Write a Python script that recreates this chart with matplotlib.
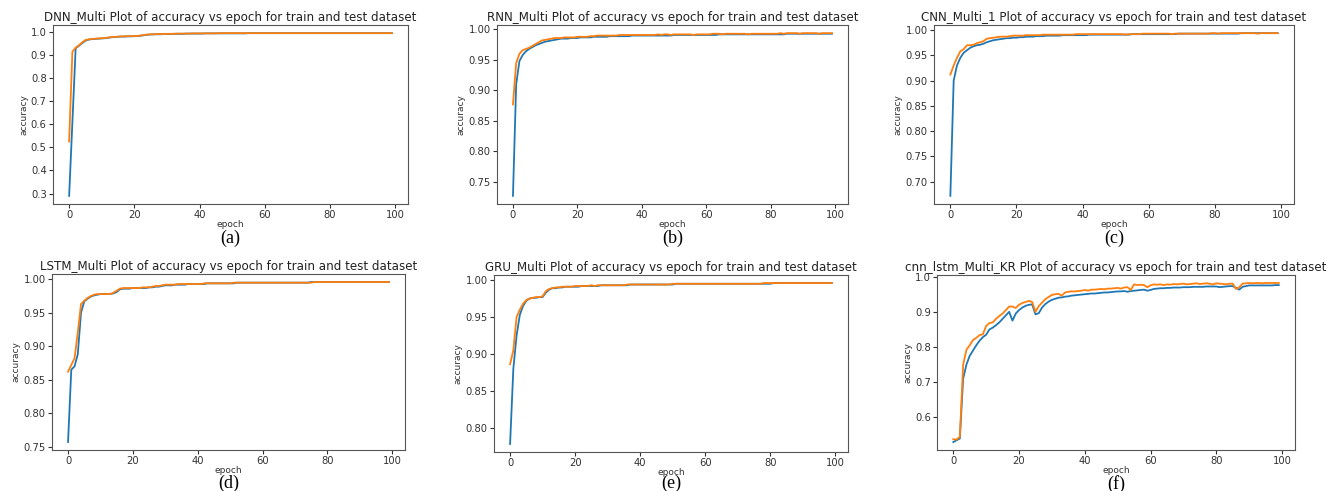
import matplotlib.pyplot as plt

plt.rcParams['font.family'] = ['DejaVu Sans']

epochs = list(range(100))

# (a) DNN_Multi
dnn_train = [0.290, 0.610, 0.930, 0.940, 0.952, 0.962, 0.967, 0.969, 0.970, 0.971,
             0.972, 0.973, 0.975, 0.977, 0.978, 0.979, 0.980, 0.980, 0.981, 0.981,
             0.982, 0.982, 0.984, 0.986, 0.988, 0.989, 0.990, 0.990, 0.990, 0.991,
             0.991, 0.991, 0.992, 0.992, 0.992, 0.992, 0.993, 0.993, 0.993, 0.993,
             0.993, 0.993, 0.994, 0.994, 0.994, 0.994, 0.994, 0.994, 0.994, 0.994,
             0.994, 0.994, 0.994, 0.994, 0.994, 0.995, 0.995, 0.995, 0.995, 0.995,
             0.995, 0.995, 0.995, 0.995, 0.995, 0.995, 0.995, 0.995, 0.995, 0.995,
             0.995, 0.995, 0.995, 0.995, 0.995, 0.995, 0.995, 0.995, 0.995, 0.995,
             0.995, 0.995, 0.995, 0.995, 0.995, 0.995, 0.995, 0.995, 0.995, 0.995,
             0.995, 0.995, 0.995, 0.995, 0.995, 0.995, 0.995, 0.995, 0.995, 0.995]
dnn_test = [0.525, 0.915, 0.932, 0.942, 0.955, 0.965, 0.968, 0.970, 0.971, 0.972,
            0.973, 0.974, 0.976, 0.978, 0.979, 0.980, 0.981, 0.981, 0.982, 0.982,
            0.982, 0.983, 0.985, 0.987, 0.989, 0.990, 0.990, 0.991, 0.991, 0.991,
            0.992, 0.992, 0.992, 0.993, 0.993, 0.993, 0.993, 0.993, 0.994, 0.994,
            0.994, 0.994, 0.994, 0.994, 0.994, 0.994, 0.995, 0.995, 0.995, 0.995,
            0.995, 0.995, 0.995, 0.995, 0.995, 0.995, 0.995, 0.995, 0.995, 0.995,
            0.995, 0.995, 0.995, 0.995, 0.995, 0.995, 0.995, 0.995, 0.995, 0.995,
            0.995, 0.995, 0.995, 0.995, 0.995, 0.995, 0.995, 0.995, 0.995, 0.995,
            0.995, 0.995, 0.995, 0.995, 0.995, 0.995, 0.995, 0.995, 0.995, 0.995,
            0.995, 0.995, 0.995, 0.995, 0.995, 0.995, 0.995, 0.995, 0.995, 0.995]

# (b) RNN_Multi
rnn_train = [0.727, 0.910, 0.948, 0.958, 0.964, 0.968, 0.971, 0.974, 0.976, 0.978,
             0.980, 0.981, 0.982, 0.983, 0.984, 0.985, 0.985, 0.985, 0.986, 0.986,
             0.986, 0.987, 0.987, 0.987, 0.987, 0.988, 0.988, 0.988, 0.988, 0.988,
             0.989, 0.989, 0.989, 0.989, 0.989, 0.989, 0.989, 0.990, 0.990, 0.990,
             0.990, 0.990, 0.990, 0.990, 0.990, 0.990, 0.990, 0.990, 0.990, 0.990,
             0.991, 0.991, 0.991, 0.991, 0.991, 0.991, 0.991, 0.991, 0.991, 0.991,
             0.991, 0.991, 0.991, 0.991, 0.992, 0.992, 0.992, 0.992, 0.992, 0.992,
             0.992, 0.992, 0.992, 0.992, 0.992, 0.992, 0.992, 0.992, 0.992, 0.992,
             0.992, 0.992, 0.992, 0.992, 0.992, 0.993, 0.993, 0.993, 0.993, 0.993,
             0.993, 0.993, 0.993, 0.993, 0.993, 0.993, 0.993, 0.993, 0.993, 0.993]
rnn_test = [0.877, 0.945, 0.960, 0.966, 0.968, 0.970, 0.973, 0.976, 0.979, 0.982,
            0.983, 0.984, 0.985, 0.986, 0.986, 0.986, 0.987, 0.987, 0.987, 0.987,
            0.988, 0.988, 0.988, 0.988, 0.989, 0.989, 0.990, 0.990, 0.990, 0.990,
            0.990, 0.990, 0.990, 0.991, 0.991, 0.991, 0.991, 0.991, 0.991, 0.991,
            0.991, 0.991, 0.991, 0.991, 0.991, 0.992, 0.991, 0.992, 0.992, 0.991,
            0.992, 0.992, 0.992, 0.992, 0.992, 0.992, 0.991, 0.992, 0.992, 0.992,
            0.992, 0.992, 0.993, 0.993, 0.993, 0.992, 0.993, 0.993, 0.993, 0.993,
            0.993, 0.993, 0.993, 0.992, 0.993, 0.993, 0.993, 0.993, 0.993, 0.993,
            0.993, 0.993, 0.993, 0.994, 0.993, 0.994, 0.994, 0.994, 0.994, 0.993,
            0.994, 0.994, 0.994, 0.994, 0.994, 0.993, 0.994, 0.994, 0.994, 0.994]

# (c) CNN_Multi_1
cnn_train = [0.672, 0.900, 0.930, 0.945, 0.955, 0.960, 0.965, 0.968, 0.970, 0.971,
             0.973, 0.976, 0.978, 0.980, 0.981, 0.982, 0.983, 0.984, 0.984, 0.985,
             0.985, 0.986, 0.986, 0.987, 0.987, 0.987, 0.988, 0.988, 0.988, 0.989,
             0.989, 0.989, 0.989, 0.989, 0.990, 0.990, 0.990, 0.990, 0.990, 0.990,
             0.990, 0.990, 0.991, 0.991, 0.991, 0.991, 0.991, 0.991, 0.991, 0.991,
             0.991, 0.991, 0.991, 0.991, 0.991, 0.992, 0.992, 0.992, 0.992, 0.992,
             0.992, 0.992, 0.992, 0.992, 0.992, 0.992, 0.992, 0.992, 0.992, 0.993,
             0.993, 0.993, 0.993, 0.993, 0.993, 0.993, 0.993, 0.993, 0.993, 0.993,
             0.993, 0.993, 0.993, 0.993, 0.993, 0.993, 0.993, 0.993, 0.994, 0.994,
             0.994, 0.994, 0.994, 0.994, 0.994, 0.994, 0.994, 0.994, 0.994, 0.994]
cnn_test = [0.912, 0.930, 0.945, 0.958, 0.962, 0.970, 0.970, 0.971, 0.974, 0.976,
            0.978, 0.983, 0.984, 0.985, 0.986, 0.987, 0.987, 0.987, 0.988, 0.989,
            0.989, 0.989, 0.989, 0.990, 0.990, 0.990, 0.990, 0.990, 0.991, 0.991,
            0.991, 0.991, 0.991, 0.991, 0.991, 0.991, 0.991, 0.991, 0.992, 0.992,
            0.992, 0.992, 0.992, 0.992, 0.992, 0.992, 0.992, 0.992, 0.992, 0.992,
            0.992, 0.992, 0.992, 0.991, 0.992, 0.992, 0.992, 0.992, 0.993, 0.993,
            0.993, 0.993, 0.993, 0.993, 0.993, 0.993, 0.993, 0.992, 0.993, 0.993,
            0.993, 0.993, 0.993, 0.993, 0.993, 0.993, 0.993, 0.993, 0.993, 0.994,
            0.994, 0.993, 0.994, 0.994, 0.994, 0.994, 0.994, 0.994, 0.994, 0.994,
            0.994, 0.994, 0.994, 0.993, 0.994, 0.994, 0.994, 0.994, 0.994, 0.994]

# (d) LSTM_Multi
lstm_train = [0.757, 0.865, 0.870, 0.888, 0.950, 0.967, 0.971, 0.974, 0.976, 0.977,
              0.978, 0.978, 0.978, 0.978, 0.979, 0.981, 0.985, 0.986, 0.986, 0.986,
              0.987, 0.987, 0.987, 0.987, 0.987, 0.988, 0.988, 0.989, 0.989, 0.990,
              0.991, 0.991, 0.991, 0.992, 0.992, 0.992, 0.992, 0.993, 0.993, 0.993,
              0.993, 0.993, 0.993, 0.994, 0.994, 0.994, 0.994, 0.994, 0.994, 0.994,
              0.994, 0.994, 0.995, 0.995, 0.995, 0.995, 0.995, 0.995, 0.995, 0.995,
              0.995, 0.995, 0.995, 0.995, 0.995, 0.995, 0.995, 0.995, 0.995, 0.995,
              0.995, 0.995, 0.995, 0.995, 0.995, 0.996, 0.996, 0.996, 0.996, 0.996,
              0.996, 0.996, 0.996, 0.996, 0.996, 0.996, 0.996, 0.996, 0.996, 0.996,
              0.996, 0.996, 0.996, 0.996, 0.996, 0.996, 0.996, 0.996, 0.996, 0.996]
lstm_test = [0.862, 0.872, 0.882, 0.920, 0.963, 0.968, 0.972, 0.975, 0.977, 0.978,
             0.978, 0.978, 0.978, 0.978, 0.980, 0.983, 0.986, 0.987, 0.987, 0.987,
             0.987, 0.987, 0.987, 0.988, 0.988, 0.988, 0.989, 0.990, 0.990, 0.991,
             0.992, 0.992, 0.992, 0.992, 0.993, 0.993, 0.993, 0.993, 0.993, 0.993,
             0.993, 0.993, 0.994, 0.994, 0.994, 0.994, 0.994, 0.994, 0.994, 0.994,
             0.994, 0.995, 0.995, 0.995, 0.995, 0.995, 0.995, 0.995, 0.995, 0.995,
             0.995, 0.995, 0.995, 0.995, 0.995, 0.995, 0.995, 0.995, 0.995, 0.995,
             0.995, 0.995, 0.995, 0.995, 0.995, 0.995, 0.996, 0.996, 0.996, 0.996,
             0.996, 0.996, 0.996, 0.996, 0.996, 0.996, 0.996, 0.996, 0.996, 0.996,
             0.996, 0.996, 0.996, 0.996, 0.996, 0.996, 0.996, 0.996, 0.996, 0.996]

# (e) GRU_Multi
gru_train = [0.778, 0.880, 0.925, 0.953, 0.965, 0.972, 0.975, 0.976, 0.976, 0.977,
             0.977, 0.983, 0.987, 0.989, 0.989, 0.990, 0.990, 0.991, 0.991, 0.991,
             0.991, 0.991, 0.992, 0.992, 0.992, 0.992, 0.992, 0.992, 0.993, 0.993,
             0.993, 0.993, 0.993, 0.993, 0.993, 0.993, 0.993, 0.994, 0.994, 0.994,
             0.994, 0.994, 0.994, 0.994, 0.994, 0.994, 0.994, 0.994, 0.994, 0.994,
             0.994, 0.995, 0.995, 0.995, 0.995, 0.995, 0.995, 0.995, 0.995, 0.995,
             0.995, 0.995, 0.995, 0.995, 0.995, 0.995, 0.995, 0.995, 0.995, 0.995,
             0.995, 0.995, 0.995, 0.995, 0.995, 0.995, 0.995, 0.995, 0.995, 0.995,
             0.995, 0.996, 0.996, 0.996, 0.996, 0.996, 0.996, 0.996, 0.996, 0.996,
             0.996, 0.996, 0.996, 0.996, 0.996, 0.996, 0.996, 0.996, 0.996, 0.996]
gru_test = [0.886, 0.905, 0.950, 0.960, 0.968, 0.973, 0.975, 0.976, 0.977, 0.977,
            0.978, 0.985, 0.988, 0.989, 0.990, 0.990, 0.991, 0.991, 0.991, 0.991,
            0.992, 0.992, 0.992, 0.992, 0.992, 0.993, 0.992, 0.993, 0.993, 0.993,
            0.993, 0.993, 0.993, 0.993, 0.993, 0.993, 0.994, 0.994, 0.994, 0.994,
            0.994, 0.994, 0.994, 0.994, 0.994, 0.994, 0.994, 0.994, 0.994, 0.994,
            0.995, 0.995, 0.995, 0.995, 0.995, 0.995, 0.995, 0.995, 0.995, 0.995,
            0.995, 0.995, 0.995, 0.995, 0.995, 0.995, 0.995, 0.995, 0.995, 0.995,
            0.995, 0.995, 0.995, 0.995, 0.995, 0.995, 0.995, 0.995, 0.996, 0.996,
            0.996, 0.996, 0.996, 0.996, 0.996, 0.996, 0.996, 0.996, 0.996, 0.996,
            0.996, 0.996, 0.996, 0.996, 0.996, 0.996, 0.996, 0.996, 0.996, 0.996]

# (f) cnn_lstm_Multi_KR
kr_train = [0.530, 0.535, 0.540, 0.710, 0.750, 0.775, 0.790, 0.805, 0.818, 0.828,
            0.835, 0.850, 0.855, 0.862, 0.870, 0.880, 0.890, 0.900, 0.875, 0.895,
            0.905, 0.912, 0.917, 0.920, 0.921, 0.893, 0.896, 0.912, 0.922, 0.929,
            0.934, 0.937, 0.940, 0.941, 0.943, 0.944, 0.946, 0.947, 0.948, 0.949,
            0.950, 0.951, 0.952, 0.952, 0.953, 0.954, 0.955, 0.955, 0.956, 0.957,
            0.958, 0.958, 0.959, 0.957, 0.959, 0.960, 0.961, 0.962, 0.963, 0.960,
            0.962, 0.965, 0.966, 0.967, 0.967, 0.968, 0.968, 0.969, 0.969, 0.969,
            0.970, 0.970, 0.970, 0.971, 0.971, 0.971, 0.971, 0.972, 0.972, 0.972,
            0.972, 0.970, 0.971, 0.972, 0.973, 0.973, 0.968, 0.963, 0.971, 0.973,
            0.975, 0.975, 0.975, 0.975, 0.975, 0.975, 0.975, 0.975, 0.976, 0.976]
kr_test = [0.538, 0.537, 0.545, 0.750, 0.792, 0.805, 0.820, 0.826, 0.834, 0.836,
           0.860, 0.868, 0.870, 0.880, 0.888, 0.895, 0.905, 0.915, 0.915, 0.911,
           0.920, 0.925, 0.928, 0.931, 0.928, 0.900, 0.916, 0.926, 0.936, 0.942,
           0.948, 0.950, 0.951, 0.946, 0.955, 0.957, 0.958, 0.958, 0.959, 0.960,
           0.962, 0.960, 0.963, 0.963, 0.964, 0.965, 0.964, 0.966, 0.966, 0.967,
           0.968, 0.966, 0.969, 0.970, 0.962, 0.978, 0.976, 0.977, 0.976, 0.970,
           0.975, 0.978, 0.977, 0.978, 0.976, 0.978, 0.977, 0.979, 0.978, 0.979,
           0.980, 0.978, 0.979, 0.980, 0.981, 0.979, 0.980, 0.981, 0.980, 0.978,
           0.981, 0.980, 0.979, 0.978, 0.980, 0.980, 0.965, 0.970, 0.980, 0.981,
           0.982, 0.981, 0.982, 0.982, 0.981, 0.982, 0.982, 0.982, 0.982, 0.982]

titles = ['DNN_Multi', 'RNN_Multi', 'CNN_Multi_1',
          'LSTM_Multi', 'GRU_Multi', 'cnn_lstm_Multi_KR']
train_series = [dnn_train, rnn_train, cnn_train, lstm_train, gru_train, kr_train]
test_series = [dnn_test, rnn_test, cnn_test, lstm_test, gru_test, kr_test]
panel_tags = ['(a)', '(b)', '(c)', '(d)', '(e)', '(f)']

W, H = 1328, 491
fig = plt.figure(figsize=(W / 100, H / 100), dpi=100)

# axes boxes in pixels: left, top, right, bottom
boxes = [(53, 25, 408, 204), (497, 25, 848, 204), (934, 25, 1294, 204),
         (52, 274, 405, 450), (494, 275, 848, 452), (937, 275, 1295, 450)]
tag_y = [238, 238, 238, 483, 483, 484]

for i in range(6):
    l, t, r, b = boxes[i]
    ax = fig.add_axes([l / W, 1 - b / H, (r - l) / W, (b - t) / H])
    ax.plot(epochs, train_series[i], color='#1f77b4', lw=1.3)
    ax.plot(epochs, test_series[i], color='#ff7f0e', lw=1.3)
    ax.set_title(titles[i] + ' Plot of accuracy vs epoch for train and test dataset',
                 fontsize=8.6, pad=3, color='#222222')
    ax.set_xlabel('epoch', fontsize=6.5, labelpad=-0.5, color='#333333')
    ax.set_ylabel('accuracy', fontsize=6.5, labelpad=2, color='#333333')
    ax.set_xticks([0, 20, 40, 60, 80, 100])
    ax.tick_params(labelsize=7.2, length=3, pad=1.5, colors='#333333')
    for s in ax.spines.values():
        s.set_color('#555555')
    fig.text((l + r) / 2 / W, 1 - tag_y[i] / H, panel_tags[i], ha='center', va='center',
             fontsize=13, family='Liberation Serif')

fig.savefig('out.png', dpi=100)
